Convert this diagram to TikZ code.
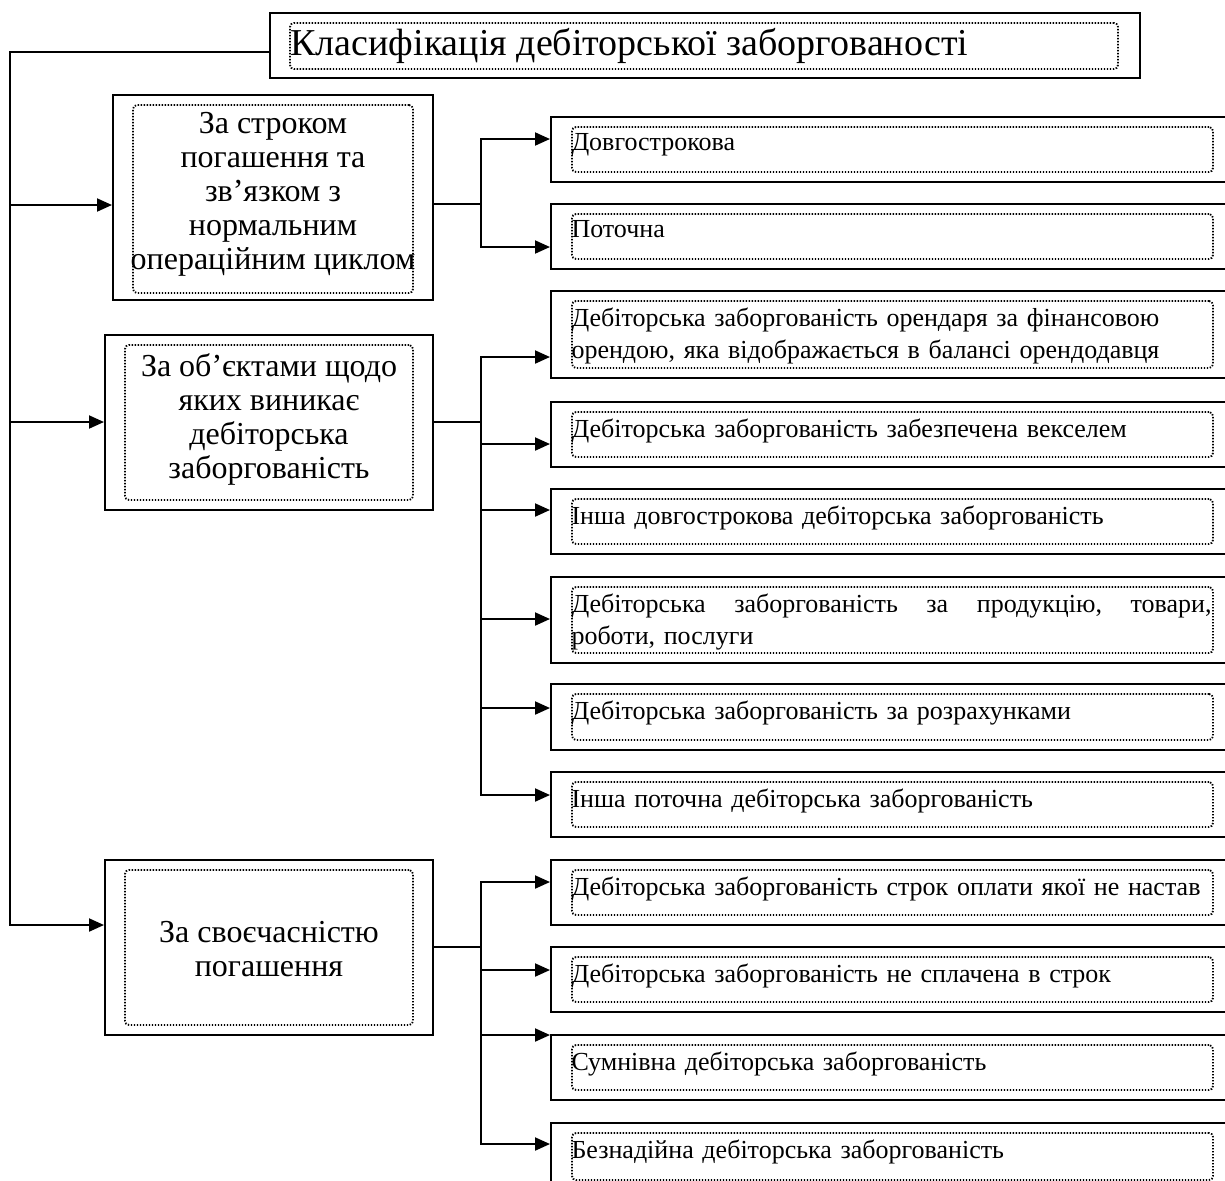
\documentclass[tikz,border=0pt]{standalone}
\usepackage{fontspec}
\setmainfont{Liberation Serif}
\newfontfamily\itemfont{Liberation Serif}
\usetikzlibrary{arrows.meta,fit,positioning}

\begin{document}
\begin{tikzpicture}[x=0.5pt,y=-0.5pt]

\tikzset{
  outerbox/.style={rectangle, draw=black, line width=1pt, inner sep=0pt},
  innerbox/.style={rectangle, draw=black, line width=0.9pt,
                  dash pattern=on 0.7pt off 0.8pt, rounded corners=2pt, inner sep=0pt},
  headtext/.style={font=\fontsize{19}{22}\selectfont, anchor=west, inner sep=0pt},
  grouptext/.style={font=\fontsize{16}{17}\selectfont, align=center, inner sep=0pt},
  itemtext/.style={font=\itemfont\fontsize{13}{16}\selectfont, anchor=north west,
                  inner sep=0pt, text width=320pt, align=left},
  link/.style={line width=1pt, line cap=rect},
  arrowin/.style={link, -{Triangle[length=7.5pt, width=6.5pt]}}
}

\newcommand{\itembox}[4]{
  \node[outerbox, fit={(551,#2) (1240,#3)}] (#1) {};
  \node[innerbox, fit={(572,#2+10) (1213,#3-10)}] (#1-in) {};
  \node[itemtext] at ([yshift=-3.5pt]#1-in.north west) {#4};
}

\useasboundingbox (0,0) rectangle (1225,1180);
\clip (0,0) rectangle (1225,1180);

% Title
\node[outerbox, fit={(270,13) (1140,78)}] (title) {};
\node[innerbox, fit={(290,23) (1118,69)}] (title-in) {};
\node[headtext] at ([xshift=0.5pt]title-in.west) {Класифікація дебіторської заборгованості};

% Groups
\node[outerbox, fit={(113,95) (433,300)}] (b1) {};
\node[innerbox, fit={(133,105) (413,293)}] (b1-in) {};
\node[grouptext] at ([yshift=2.5pt]b1-in.center) {За строком\\погашення та\\зв’язком з\\нормальним\\операційним циклом};

\node[outerbox, fit={(105,335) (433,510)}] (b2) {};
\node[innerbox, fit={(125,345) (413,500)}] (b2-in) {};
\node[grouptext] at ([yshift=1.5pt]b2-in.center) {За об’єктами щодо\\яких виникає\\дебіторська\\заборгованість};

\node[outerbox, fit={(105,860) (433,1035)}] (b3) {};
\node[innerbox, fit={(125,870) (413,1025)}] (b3-in) {};
\node[grouptext] at ([yshift=-1pt]b3-in.center) {За своєчасністю\\погашення};

% Items
\itembox{r1}{117}{182}{Довгострокова}
\itembox{r2}{204}{269}{Поточна}
\itembox{r3}{291}{378}{Дебіторська заборгованість орендаря за фінансовою\\орендою, яка відображається в балансі орендодавця}
\itembox{r4}{402}{467}{Дебіторська заборгованість забезпечена векселем}
\itembox{r5}{489}{554}{Інша довгострокова дебіторська заборгованість}
\itembox{r6}{577}{663}{Дебіторська\hfill заборгованість\hfill за\hfill продукцію,\hfill товари,\hspace*{6pt}\\роботи, послуги}
\itembox{r7}{684}{750}{Дебіторська заборгованість за розрахунками}
\itembox{r8}{772}{837}{Інша поточна дебіторська заборгованість}
\itembox{r9}{860}{925}{Дебіторська заборгованість строк оплати якої не настав}
\itembox{r10}{947}{1012}{Дебіторська заборгованість не сплачена в строк}
\itembox{r11}{1035}{1100}{Сумнівна дебіторська заборгованість}
\itembox{r12}{1123}{1190}{Безнадійна дебіторська заборгованість}

% Spine
\coordinate (s0) at (10,925);
\draw[arrowin] ([yshift=-3pt]title.west) -| (s0) -- (s0 -| b3.west);
\foreach \n/\y in {b1/205, b2/422} {
  \coordinate (s-\n) at (10,\y);
  \draw[arrowin] (s-\n) -- (s-\n -| \n.west);
}

% Branches
\foreach \n/\y in {r1/139, r2/247, r3/357, r4/444, r5/510, r6/619, r7/708,
                   r8/795, r9/882, r10/970, r11/1035, r12/1144} {
  \coordinate (k-\n) at (481,\y);
  \draw[arrowin] (k-\n) -- (k-\n -| \n.west);
}
\foreach \g/\y in {b1/204, b2/422, b3/947} {
  \coordinate (j-\g) at (481,\y);
  \draw[link] (j-\g -| \g.east) -- (j-\g);
}
\draw[link] (k-r1) -- (k-r2);
\draw[link] (k-r3) -- (k-r8);
\draw[link] (k-r9) -- (k-r12);

\end{tikzpicture}
\end{document}
